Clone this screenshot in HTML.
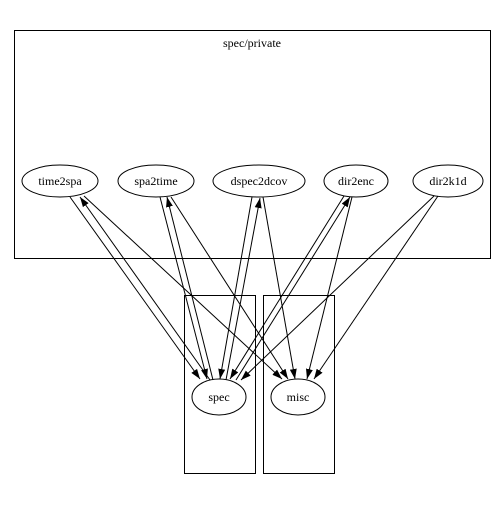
<!DOCTYPE html>
<html><head><meta charset="utf-8"><style>html,body{margin:0;padding:0;background:#fff}svg{display:block}text{font-family:"Liberation Serif",serif;font-size:12px}</style></head>
<body>
<svg width="504" height="511" viewBox="0 0 504 511" xmlns="http://www.w3.org/2000/svg">
<defs>
<marker id="a" markerWidth="10" markerHeight="8" refX="10" refY="4" orient="auto" markerUnits="userSpaceOnUse">
<path d="M0,0.5 L10,4 L0,7.5 Z" fill="#000"/>
</marker>
</defs>
<rect x="14.5" y="30.5" width="476" height="228" fill="none" stroke="#000"/>
<text x="252" y="47" text-anchor="middle">spec/private</text>
<rect x="184.5" y="295.5" width="71" height="178" fill="none" stroke="#000"/>
<rect x="263.5" y="295.5" width="71" height="178" fill="none" stroke="#000"/>
<g fill="#fff" stroke="#000">
<ellipse cx="60" cy="181" rx="38" ry="16"/>
<ellipse cx="156" cy="181" rx="38" ry="16"/>
<ellipse cx="259" cy="181" rx="46" ry="16"/>
<ellipse cx="356" cy="181" rx="32" ry="16"/>
<ellipse cx="448" cy="181" rx="35" ry="16"/>
<ellipse cx="219" cy="397" rx="27" ry="18"/>
<ellipse cx="298" cy="397" rx="27" ry="18"/>
</g>
<g text-anchor="middle">
<text x="60" y="185">time2spa</text>
<text x="156" y="185">spa2time</text>
<text x="259" y="185">dspec2dcov</text>
<text x="356" y="185">dir2enc</text>
<text x="448" y="185">dir2k1d</text>
<text x="219" y="401">spec</text>
<text x="298" y="401">misc</text>
</g>
<g stroke="#000" stroke-width="1" fill="none" marker-end="url(#a)">
<line x1="70" y1="197" x2="200" y2="379"/>
<line x1="210" y1="380" x2="80" y2="197"/>
<line x1="84" y1="196" x2="282" y2="379"/>
<line x1="160" y1="197" x2="207" y2="379"/>
<line x1="213" y1="380" x2="167" y2="197"/>
<line x1="171" y1="197" x2="288" y2="379"/>
<line x1="252" y1="197" x2="220" y2="379"/>
<line x1="226" y1="380" x2="260" y2="198"/>
<line x1="263" y1="197" x2="295" y2="379"/>
<line x1="344" y1="196" x2="230" y2="379"/>
<line x1="236" y1="380" x2="350" y2="197"/>
<line x1="352" y1="197" x2="307" y2="379"/>
<line x1="434" y1="196" x2="241" y2="380"/>
<line x1="438" y1="196" x2="314" y2="379"/>
</g>
</svg>
</body></html>
